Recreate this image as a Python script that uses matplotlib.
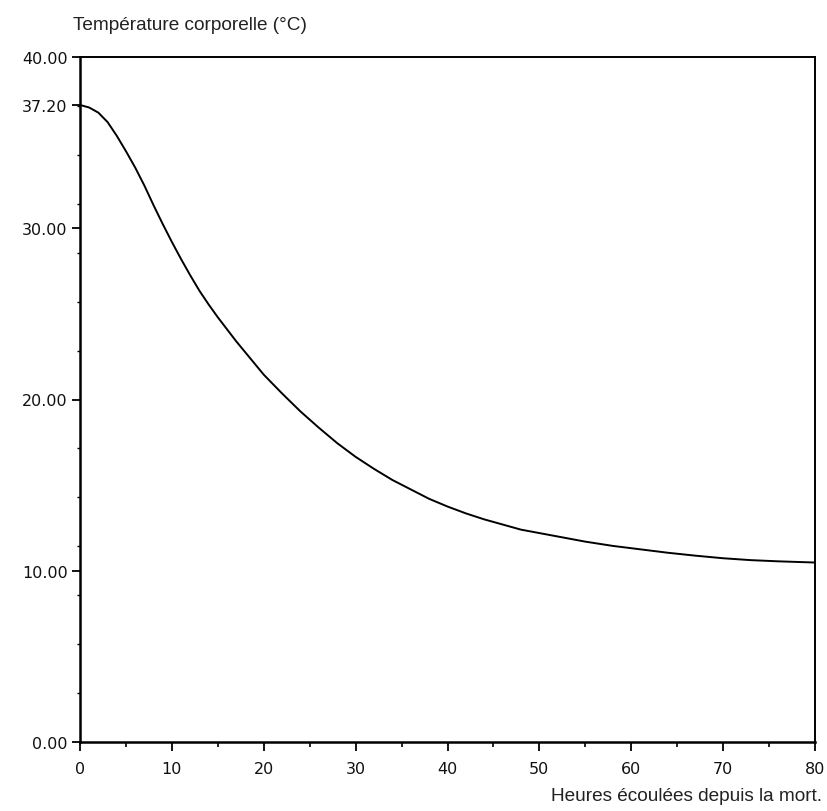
import matplotlib
matplotlib.use("Agg")
import matplotlib.pyplot as plt
from matplotlib import font_manager

# Temperature readings (hours after death -> body temperature)
hours = [0, 1, 2, 3, 4, 5, 6, 7, 8, 9, 10, 11, 12, 13, 14, 15, 16, 17, 18,
         19, 20, 22, 24, 26, 28, 30, 32, 34, 36, 38, 40, 42, 44, 46, 48, 50,
         52, 55, 58, 61, 64, 67, 70, 73, 76, 80]
temps = [37.2, 37.05, 36.75, 36.2, 35.4, 34.5, 33.55, 32.5, 31.35, 30.25,
         29.2, 28.2, 27.25, 26.35, 25.55, 24.8, 24.1, 23.4, 22.75, 22.1,
         21.45, 20.35, 19.3, 18.35, 17.45, 16.65, 15.95, 15.3, 14.75, 14.2,
         13.75, 13.35, 13.0, 12.7, 12.4, 12.2, 12.0, 11.7, 11.45, 11.25,
         11.05, 10.88, 10.73, 10.62, 10.55, 10.48]

ytick_vals = [0, 10, 20, 30, 37.2, 40]
ytick_labels = ["0.00", "10.00", "20.00", "30.00", "37.20", "40.00"]
xtick_vals = [0, 10, 20, 30, 40, 50, 60, 70, 80]

ylabel = "Température corporelle (°C)"
xlabel = "Heures écoulées depuis la mort."

names = {f.name for f in font_manager.fontManager.ttflist}
label_font = "Liberation Sans Narrow" if "Liberation Sans Narrow" in names else "Liberation Sans"

fig = plt.figure(figsize=(8.27, 8.12), dpi=100)
ax = fig.add_axes([80 / 827, 1 - 743 / 812, (815 - 80) / 827, (743 - 58) / 812])

ax.plot(hours, temps, color="black", linewidth=1.4)

ax.set_xlim(0, 80)
ax.set_ylim(0, 40)

ax.set_xticks(xtick_vals)
ax.set_xticklabels([str(v) for v in xtick_vals])
ax.set_xticks([5, 15, 25, 35, 45, 55, 65, 75], minor=True)
ax.set_yticks(ytick_vals)
ax.set_yticklabels(ytick_labels)
ax.set_yticks([40 / 14 * k for k in range(1, 14)], minor=True)

ax.tick_params(axis="x", which="major", direction="out", length=6.5, width=1.3,
               pad=7, labelsize=11.5, top=False)
ax.tick_params(axis="x", which="minor", direction="out", length=3.5, width=1.2, top=False)
ax.tick_params(axis="y", which="major", direction="out", length=6, width=1.3,
               pad=3, labelsize=11.5, right=False)
ax.tick_params(axis="y", which="minor", direction="out", length=2, width=1.0, right=False)

for lbl in ax.get_xticklabels() + ax.get_yticklabels():
    lbl.set_fontfamily("DejaVu Sans")
    lbl.set_color("#111111")

for side in ["left", "bottom"]:
    ax.spines[side].set_linewidth(1.8)
for side in ["top", "right"]:
    ax.spines[side].set_linewidth(1.4)

fig.text(73 / 827, 1 - 25 / 812, ylabel, ha="left", va="center",
         fontsize=13.7, family=label_font, color="#222222")
fig.text(822 / 827, 1 - 797 / 812, xlabel, ha="right", va="center",
         fontsize=13.7, family=label_font, color="#222222")

fig.savefig("out.png", dpi=100, facecolor="white")
